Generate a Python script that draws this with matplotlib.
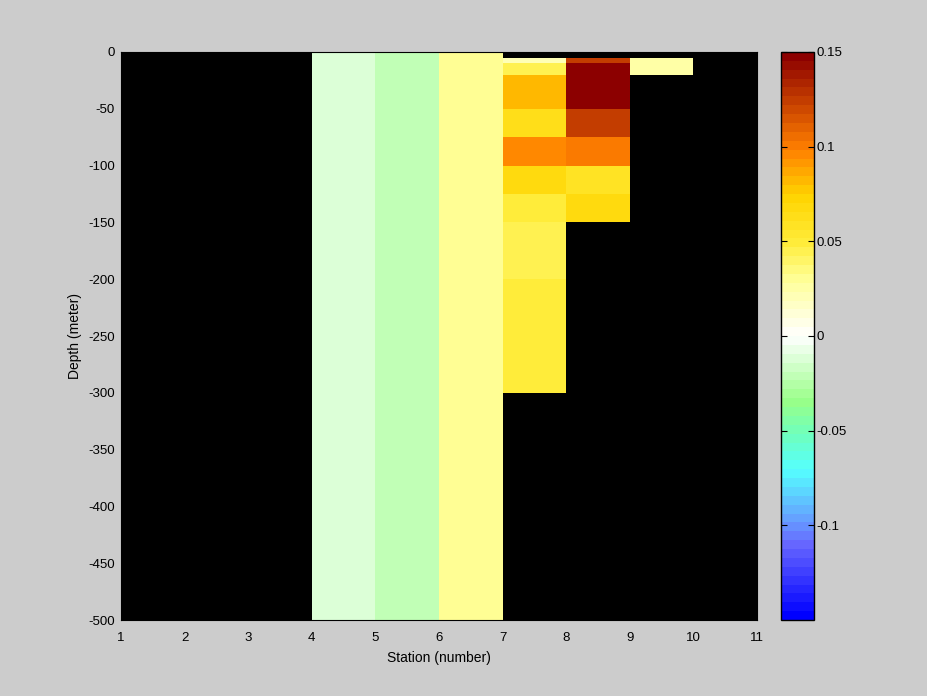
import numpy as np
import matplotlib
matplotlib.use("Agg")
import matplotlib.pyplot as plt
from matplotlib.colors import LinearSegmentedColormap

# ---- data ----
station_edges = [1, 2, 3, 4, 5, 6, 7, 8, 9, 10, 11]
depth_edges = [0, -5, -10, -20, -50, -75, -100, -125, -150, -200, -300, -500]
nan = np.nan
# values per station column (one value per depth cell, top to bottom)
col_1 = [nan] * 11
col_2 = [nan] * 11
col_3 = [nan] * 11
col_4 = [-0.011] * 11
col_5 = [-0.022] * 11
col_6 = [0.031] * 11
col_7 = [nan, 0.02, 0.045, 0.083, 0.0625, 0.094, 0.066, 0.051, 0.044, 0.051, nan]
col_8 = [nan, 0.126, 0.16, 0.16, 0.123, 0.1005, 0.057, 0.068, nan, nan, nan]
col_9 = [nan, 0.028, 0.028, nan, nan, nan, nan, nan, nan, nan, nan]
col_10 = [nan] * 11

cbar_ticks = [-0.1, -0.05, 0, 0.05, 0.1, 0.15]
cbar_labels = ["-0.1", "-0.05", "0", "0.05", "0.1", "0.15"]
x_ticks = list(range(1, 12))
y_ticks = list(range(-500, 1, 50))
vmin, vmax = -0.15, 0.15

# ---- colormap ----
anchors = [
    (-0.15, "#0000ff"),
    (-0.112, "#6666ff"),
    (-0.10, "#6699ff"),
    (-0.072, "#55ffff"),
    (-0.052, "#70ffbb"),
    (-0.035, "#99ff88"),
    (0.0, "#ffffff"),
    (0.03, "#ffff99"),
    (0.05, "#ffec3a"),
    (0.075, "#ffd400"),
    (0.10, "#ff8000"),
    (0.15, "#8c0000"),
]
cmap = LinearSegmentedColormap.from_list(
    "custom", [((v - vmin) / (vmax - vmin), c) for v, c in anchors], N=64)

plt.rcParams['font.family'] = ['Liberation Sans', 'DejaVu Sans']
plt.rcParams['font.size'] = 9.5
plt.rcParams['axes.unicode_minus'] = False

fig = plt.figure(figsize=(9.28, 6.96), dpi=100, facecolor="#cccccc")
ax = fig.add_axes([121 / 928, 76 / 696, 636 / 928, 568 / 696])
ax.set_facecolor("black")

values = np.array([col_1, col_2, col_3, col_4, col_5, col_6, col_7,
                   col_8, col_9, col_10]).T
mesh = ax.pcolormesh(station_edges, depth_edges, np.ma.masked_invalid(values),
                     cmap=cmap, vmin=vmin, vmax=vmax, shading="flat")
ax.set_xlim(1, 11)
ax.set_ylim(-500, 0)
ax.set_xticks(x_ticks)
ax.set_yticks(y_ticks)
ax.tick_params(axis="both", length=0, colors="black")
ax.tick_params(axis="x", pad=8.5)
ax.tick_params(axis="y", pad=4.3)
for s in ax.spines.values():
    s.set_color("black")
ax.set_xlabel("Station (number)", fontsize=10, labelpad=5.5)
ax.set_ylabel("Depth (meter)", fontsize=10, labelpad=4.5)

cax = fig.add_axes([781 / 928, 76 / 696, 33 / 928, 568 / 696])
cb = fig.colorbar(mesh, cax=cax, ticks=cbar_ticks)
cb.ax.set_yticklabels(cbar_labels)
cb.outline.set_edgecolor("black")
cb.outline.set_linewidth(1.0)
cax.yaxis.set_ticks_position("both")
cax.tick_params(axis="y", which="both", direction="in", length=4,
                labelleft=False, labelright=True, pad=2, colors="black")
cax.minorticks_off()

fig.savefig("out.png", dpi=100, facecolor=fig.get_facecolor())
